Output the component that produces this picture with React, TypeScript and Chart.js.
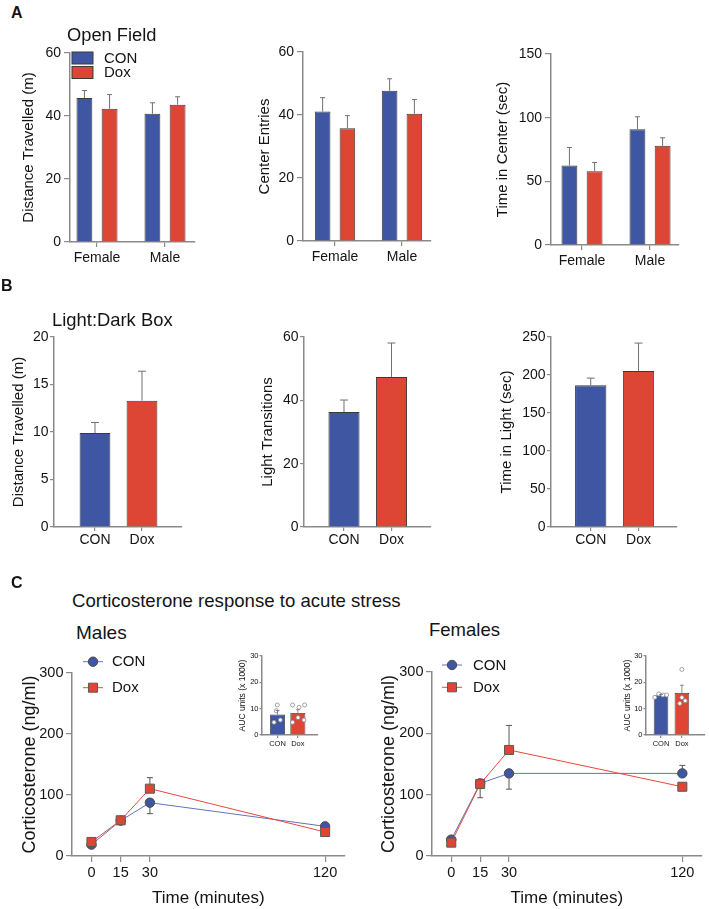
import { useEffect, useRef } from 'react';
import { Chart, registerables } from 'chart.js';

Chart.register(...registerables);

const FONT = '"Liberation Sans", Arial, Helvetica, sans-serif';
const INK = '#141414';
const AXIS = '#8a8a8a';
const BLUE = '#3F56A2';
const RED = '#DD4534';
const BAR_EDGE = '#3a3a3a';
const ERR = '#707070';
const LINE_BLUE = '#6274B8';
const LINE_RED = '#E8473A';

Chart.defaults.font.family = FONT;
Chart.defaults.color = INK;

// ---------- Panel A : Open Field ----------
const sexCategories = ['Female', 'Male'];
const seriesNames = ['CON', 'Dox'];
const ofDistanceCon = [45.7, 40.7];
const ofDistanceConErr = [2.4, 3.5];
const ofDistanceDox = [42.3, 43.6];
const ofDistanceDoxErr = [4.5, 2.5];
const ofEntriesCon = [41.1, 47.7];
const ofEntriesConErr = [4.4, 3.8];
const ofEntriesDox = [35.8, 40.4];
const ofEntriesDoxErr = [4.0, 4.5];
const ofTimeCon = [62.4, 91.0];
const ofTimeConErr = [14.2, 9.7];
const ofTimeDox = [58.0, 77.9];
const ofTimeDoxErr = [6.8, 6.3];

// ---------- Panel B : Light:Dark Box ----------
const groupCategories = ['CON', 'Dox'];
const ldDistance = [9.9, 13.3];
const ldDistanceErr = [1.1, 3.1];
const ldTransitions = [36.3, 47.4];
const ldTransitionsErr = [3.8, 10.7];
const ldTimeLight = [186.6, 205.1];
const ldTimeLightErr = [9.3, 36.9];

// ---------- Panel C : Corticosterone ----------
const timePoints = [0, 15, 30, 120];
const malesCon = [18.6, 58.0, 87.4, 48.6];
const malesConErr = [3, 4, 18, 3];
const malesDox = [23.0, 58.5, 110.4, 39.3];
const malesDoxErr = [4, 5, 18, 5];
const femalesCon = [26.7, 118.4, 134.7, 134.7];
const femalesConErr = [3, 6.6, 25.7, 13];
const femalesDox = [21.8, 117.3, 172.9, 112.9];
const femalesDoxErr = [4, 22.3, 40, 5];

// AUC insets (x 1000)
const malesAucMeans = [7.8, 8.4];
const malesAucErr = [1.5, 1.2];
const malesAucConPoints = [11.4, 9.2, 4.8, 5.7];
const malesAucConJitter = [-0.01, -0.06, -0.17, 0.14];
const malesAucDoxPoints = [11.4, 10.5, 11.4, 6.6, 4.8, 5.7];
const malesAucDoxJitter = [-0.26, 0.06, 0.33, 0.01, -0.26, 0.3];
const femalesAucMeans = [15.1, 16.0];
const femalesAucErr = [0.3, 2.9];
const femalesAucConPoints = [14.3, 15.6, 15.2, 15.2];
const femalesAucConJitter = [-0.3, -0.11, 0.09, 0.27];
const femalesAucDoxPoints = [24.9, 14.2, 12.0, 13.0];
const femalesAucDoxJitter = [0, 0, -0.1, 0.16];

type Rect = { x: number; y: number; w: number; h: number };
type Area = { l: number; t: number; r: number; b: number };

function frame(canvas: Rect, area: Area) {
  return {
    padding: { left: 0, top: area.t - canvas.y, right: canvas.x + canvas.w - area.r, bottom: 0 },
    yWidth: area.l - canvas.x,
    xHeight: canvas.y + canvas.h - area.b,
  };
}

// phase 'up'  : bar charts, error drawn upward from the bar top (after bars)
// phase 'outer': line charts, error drawn away from the other series (behind markers)
function drawErrorBars(chart: any, phase: 'up' | 'outer') {
  const ctx = chart.ctx;
  const withErr = chart.data.datasets
    .map((ds: any, di: number) => ({ ds, di }))
    .filter((o: any) => o.ds.errorBars && chart.isDatasetVisible(o.di));
  withErr.forEach(({ ds, di }: any) => {
    const eb = ds.errorBars;
    if (eb.mode !== phase) return;
    const meta = chart.getDatasetMeta(di);
    const yScale = chart.scales[meta.yAxisID];
    ctx.save();
    ctx.strokeStyle = eb.color || ERR;
    ctx.lineWidth = eb.width || 1;
    ctx.beginPath();
    meta.data.forEach((el: any, i: number) => {
      const err = eb.values[i];
      if (err == null) return;
      const v = meta.controller.getParsed(i).y;
      let sign = 1;
      if (phase === 'outer') {
        const others = withErr
          .filter((o: any) => o.di !== di)
          .map((o: any) => chart.getDatasetMeta(o.di).controller.getParsed(i).y);
        if (others.length && v < Math.max(...others)) sign = -1;
      }
      const x = el.x;
      const end = yScale.getPixelForValue(v + sign * err);
      ctx.moveTo(x, el.y);
      ctx.lineTo(x, end);
      ctx.moveTo(x - eb.cap, end);
      ctx.lineTo(x + eb.cap, end);
    });
    ctx.stroke();
    ctx.restore();
  });
}

const errorBarPlugin = {
  id: 'errorBars',
  beforeDatasetsDraw(chart: any) {
    drawErrorBars(chart, 'outer');
  },
  afterDatasetsDraw(chart: any) {
    drawErrorBars(chart, 'up');
  },
};

function makeLegendPlugin(o: any) {
  return {
    id: 'innerLegend',
    afterDraw(chart: any) {
      const { ctx, chartArea } = chart;
      const items = chart.data.datasets.filter((d: any) => d.label && d.inLegend !== false);
      ctx.save();
      ctx.font = `${o.fontSize}px ${FONT}`;
      ctx.textBaseline = 'middle';
      ctx.textAlign = 'left';
      items.forEach((d: any, i: number) => {
        const cx = chartArea.left + o.x;
        const cy = chartArea.top + o.y + i * o.rowGap;
        if (o.kind === 'box') {
          ctx.fillStyle = d.backgroundColor;
          ctx.fillRect(cx - o.boxW / 2, cy - o.boxH / 2, o.boxW, o.boxH);
          ctx.strokeStyle = BAR_EDGE;
          ctx.lineWidth = 1;
          ctx.strokeRect(cx - o.boxW / 2, cy - o.boxH / 2, o.boxW, o.boxH);
        } else {
          ctx.strokeStyle = d.borderColor;
          ctx.lineWidth = d.borderWidth;
          ctx.beginPath();
          ctx.moveTo(cx - o.lineLen / 2, cy);
          ctx.lineTo(cx + o.lineLen / 2, cy);
          ctx.stroke();
          ctx.fillStyle = d.pointBackgroundColor;
          ctx.strokeStyle = d.pointBorderColor;
          ctx.lineWidth = d.pointBorderWidth;
          ctx.beginPath();
          if (d.pointStyle === 'rect') {
            const s = d.pointRadius * Math.SQRT1_2;
            ctx.rect(cx - s, cy - s, 2 * s, 2 * s);
          } else {
            ctx.arc(cx, cy, d.pointRadius, 0, Math.PI * 2);
          }
          ctx.fill();
          ctx.stroke();
        }
        ctx.fillStyle = INK;
        ctx.fillText(d.label, cx + o.textDx, cy + 0.5);
      });
      ctx.restore();
    },
  };
}

function valueAxis(f: any, o: any) {
  return {
    type: 'linear',
    min: 0,
    max: o.max,
    ticks: { stepSize: o.step, font: { size: o.tickSize }, padding: o.tickPad, color: INK },
    grid: { drawOnChartArea: false, drawTicks: true, tickLength: o.tickLen, color: AXIS, lineWidth: 1.2 },
    border: { display: true, color: AXIS, width: 1.5 },
    title: { display: true, text: o.title, font: { size: o.titleSize }, padding: 0, color: INK },
    afterFit: (s: any) => {
      s.width = f.yWidth;
    },
  };
}

function indexAxis(f: any, o: any) {
  return {
    type: 'linear',
    min: o.min,
    max: o.max,
    offset: false,
    afterBuildTicks: (s: any) => {
      s.ticks = o.tickValues.map((v: number) => ({ value: v }));
    },
    ticks: {
      autoSkip: false,
      maxRotation: 0,
      minRotation: 0,
      font: { size: o.tickSize },
      padding: o.tickPad,
      color: INK,
      callback: (v: any, i: number) => (o.labels ? o.labels[i] : String(v)),
    },
    grid: { drawOnChartArea: false, offset: false, drawTicks: true, tickLength: o.tickLen, color: AXIS, lineWidth: 1.2 },
    border: { display: true, color: AXIS, width: 1.5 },
    title: o.title
      ? { display: true, text: o.title, font: { size: o.titleSize }, padding: 0, color: INK }
      : { display: false },
    afterFit: (s: any) => {
      s.height = f.xHeight;
    },
  };
}

const pts = (vals: number[]) => vals.map((v, i) => ({ x: i + 1, y: v }));

const baseOptions = (f: any) => ({
  animation: false,
  responsive: true,
  maintainAspectRatio: false,
  layout: { padding: f.padding },
  plugins: { legend: { display: false }, tooltip: { enabled: false } },
});

function openFieldConfig(canvas: Rect, area: Area, o: any) {
  const f = frame(canvas, area);
  const common = { borderColor: BAR_EDGE, borderWidth: 1, categoryPercentage: 0.74, barPercentage: 0.63 };
  const plugins: any[] = [errorBarPlugin];
  if (o.legend) {
    plugins.push(
      makeLegendPlugin({ kind: 'box', x: 12.5, y: 5, rowGap: 14.5, boxW: 21, boxH: 12, textDx: 21.5, fontSize: 15 })
    );
  }
  return {
    type: 'bar',
    data: {
      datasets: [
        { label: seriesNames[0], data: pts(o.con), backgroundColor: BLUE, ...common, errorBars: { values: o.conErr, mode: 'up', cap: 2.5 } },
        { label: seriesNames[1], data: pts(o.dox), backgroundColor: RED, ...common, errorBars: { values: o.doxErr, mode: 'up', cap: 2.5 } },
      ],
    },
    options: {
      ...baseOptions(f),
      scales: {
        x: indexAxis(f, { min: o.xmin, max: o.xmax, tickValues: [1, 2], labels: sexCategories, tickSize: 14, tickLen: 5, tickPad: 3 }),
        y: valueAxis(f, { max: o.max, step: o.step, title: o.title, titleSize: 15, tickSize: 14, tickLen: 6, tickPad: 3 }),
      },
    },
    plugins,
  };
}

function lightDarkConfig(canvas: Rect, area: Area, o: any) {
  const f = frame(canvas, area);
  return {
    type: 'bar',
    data: {
      datasets: [
        {
          label: '',
          data: pts(o.values),
          backgroundColor: [BLUE, RED],
          borderColor: BAR_EDGE,
          borderWidth: 1,
          categoryPercentage: 1,
          barPercentage: 0.655,
          errorBars: { values: o.err, mode: 'up', cap: 4 },
        },
      ],
    },
    options: {
      ...baseOptions(f),
      scales: {
        x: indexAxis(f, { min: o.xmin, max: o.xmax, tickValues: [1, 2], labels: groupCategories, tickSize: 14, tickLen: 4, tickPad: 1 }),
        y: valueAxis(f, { max: o.max, step: o.step, title: o.title, titleSize: 15, tickSize: 14, tickLen: 4, tickPad: 1.5 }),
      },
    },
    plugins: [errorBarPlugin],
  };
}

function cortConfig(canvas: Rect, area: Area, o: any) {
  const f = frame(canvas, area);
  const tp = (vals: number[]) => timePoints.map((t, i) => ({ x: t, y: vals[i] }));
  return {
    type: 'line',
    data: {
      datasets: [
        {
          label: seriesNames[0],
          data: tp(o.con),
          borderColor: LINE_BLUE,
          borderWidth: 1,
          tension: 0,
          fill: false,
          pointStyle: 'circle',
          pointRadius: 4.7,
          pointBackgroundColor: BLUE,
          pointBorderColor: '#4a4a4a',
          pointBorderWidth: 1,
          order: 2,
          errorBars: { values: o.conErr, mode: 'outer', cap: 3, color: '#555' },
        },
        {
          label: seriesNames[1],
          data: tp(o.dox),
          borderColor: LINE_RED,
          borderWidth: 1,
          tension: 0,
          fill: false,
          pointStyle: 'rect',
          pointRadius: 6.4,
          pointBackgroundColor: RED,
          pointBorderColor: '#5a5a5a',
          pointBorderWidth: 1,
          order: 1,
          errorBars: { values: o.doxErr, mode: 'outer', cap: 3, color: '#555' },
        },
      ],
    },
    options: {
      ...baseOptions(f),
      scales: {
        x: indexAxis(f, {
          min: -10,
          max: 130,
          tickValues: timePoints,
          tickSize: 14.5,
          tickLen: 6,
          tickPad: 2,
          title: 'Time (minutes)',
          titleSize: 17,
        }),
        y: valueAxis(f, { max: 300, step: 100, title: 'Corticosterone (ng/ml)', titleSize: 18, tickSize: 14.5, tickLen: 6, tickPad: 2.5 }),
      },
    },
    plugins: [errorBarPlugin, makeLegendPlugin({ kind: 'line', lineLen: 20, textDx: o.textDx, x: o.lx, y: o.ly, rowGap: o.rowGap, fontSize: 15 })],
  };
}

function aucConfig(canvas: Rect, area: Area, o: any) {
  const f = frame(canvas, area);
  const scatter = [
    ...o.conPts.map((v: number, i: number) => ({ x: 1 + o.conJit[i], y: v })),
    ...o.doxPts.map((v: number, i: number) => ({ x: 2 + o.doxJit[i], y: v })),
  ];
  return {
    type: 'bar',
    data: {
      datasets: [
        {
          type: 'bar',
          label: '',
          data: pts(o.means),
          backgroundColor: [BLUE, RED],
          borderColor: BAR_EDGE,
          borderWidth: 0.8,
          categoryPercentage: 1,
          barPercentage: o.bp,
          order: 2,
          errorBars: { values: o.err, mode: 'up', cap: 2, width: 0.8 },
        },
        {
          type: 'scatter',
          label: '',
          data: scatter,
          pointRadius: 2,
          pointBackgroundColor: '#ffffff',
          pointBorderColor: '#8c8c8c',
          pointBorderWidth: 0.8,
          showLine: false,
          order: 1,
        },
      ],
    },
    options: {
      ...baseOptions(f),
      scales: {
        x: indexAxis(f, { min: o.xmin, max: o.xmax, tickValues: [1, 2], labels: groupCategories, tickSize: 7.5, tickLen: 3, tickPad: 1 }),
        y: valueAxis(f, { max: 30, step: 10, title: 'AUC units (x 1000)', titleSize: 8.5, tickSize: 7.5, tickLen: 2.5, tickPad: 1 }),
      },
    },
    plugins: [errorBarPlugin],
  };
}

function ChartCanvas({ rect, build }: { rect: Rect; build: () => any }) {
  const ref = useRef<HTMLCanvasElement | null>(null);
  useEffect(() => {
    if (!ref.current) return;
    const chart = new Chart(ref.current, build() as any);
    return () => chart.destroy();
  }, [build]);
  return (
    <div style={{ position: 'absolute', left: rect.x, top: rect.y, width: rect.w, height: rect.h }}>
      <canvas ref={ref} />
    </div>
  );
}

type Spec = { rect: Rect; build: () => any };

const A1 = { x: 20, y: 38, w: 180, h: 232 };
const A2 = { x: 256, y: 38, w: 180, h: 232 };
const A3 = { x: 494, y: 38, w: 190, h: 232 };
const B1 = { x: 10, y: 320, w: 178, h: 230 };
const B2 = { x: 259, y: 320, w: 178, h: 230 };
const B3 = { x: 498, y: 320, w: 185, h: 230 };
const C1 = { x: 19, y: 648, w: 333, h: 261 };
const C2 = { x: 378, y: 648, w: 331, h: 261 };
const I1 = { x: 238, y: 645, w: 84, h: 107 };
const I2 = { x: 623, y: 645, w: 86, h: 107 };

const specs: Spec[] = [
  {
    rect: A1,
    build: () =>
      openFieldConfig(A1, { l: 70, t: 53, r: 195, b: 242 }, {
        con: ofDistanceCon, conErr: ofDistanceConErr, dox: ofDistanceDox, doxErr: ofDistanceDoxErr,
        max: 60, step: 20, title: 'Distance Travelled (m)', xmin: 0.603, xmax: 2.441, legend: true,
      }),
  },
  {
    rect: A2,
    build: () =>
      openFieldConfig(A2, { l: 303, t: 52, r: 431, b: 241 }, {
        con: ofEntriesCon, conErr: ofEntriesConErr, dox: ofEntriesDox, doxErr: ofEntriesDoxErr,
        max: 60, step: 20, title: 'Center Entries', xmin: 0.522, xmax: 2.433,
      }),
  },
  {
    rect: A3,
    build: () =>
      openFieldConfig(A3, { l: 551, t: 54, r: 679, b: 245 }, {
        con: ofTimeCon, conErr: ofTimeConErr, dox: ofTimeDox, doxErr: ofTimeDoxErr,
        max: 150, step: 50, title: 'Time in Center (sec)', xmin: 0.544, xmax: 2.426,
      }),
  },
  {
    rect: B1,
    build: () =>
      lightDarkConfig(B1, { l: 54, t: 337, r: 182, b: 527 }, {
        values: ldDistance, err: ldDistanceErr, max: 20, step: 5, title: 'Distance Travelled (m)', xmin: 0.128, xmax: 2.851,
      }),
  },
  {
    rect: B2,
    build: () =>
      lightDarkConfig(B2, { l: 304, t: 337, r: 431, b: 527 }, {
        values: ldTransitions, err: ldTransitionsErr, max: 60, step: 20, title: 'Light Transitions', xmin: 0.158, xmax: 2.832,
      }),
  },
  {
    rect: B3,
    build: () =>
      lightDarkConfig(B3, { l: 551, t: 337, r: 677, b: 527 }, {
        values: ldTimeLight, err: ldTimeLightErr, max: 250, step: 50, title: 'Time in Light (sec)', xmin: 0.169, xmax: 2.805,
      }),
  },
  {
    rect: C1,
    build: () =>
      cortConfig(C1, { l: 72, t: 673, r: 347, b: 856 }, {
        con: malesCon, conErr: malesConErr, dox: malesDox, doxErr: malesDoxErr,
        lx: 21, ly: -11.3, rowGap: 26, textDx: 19,
      }),
  },
  {
    rect: C2,
    build: () =>
      cortConfig(C2, { l: 432, t: 672, r: 707, b: 856 }, {
        con: femalesCon, conErr: femalesConErr, dox: femalesDox, doxErr: femalesDoxErr,
        lx: 20, ly: -7, rowGap: 22.3, textDx: 21,
      }),
  },
  {
    rect: I1,
    build: () =>
      aucConfig(I1, { l: 262, t: 656, r: 320, b: 735 }, {
        means: malesAucMeans, err: malesAucErr,
        conPts: malesAucConPoints, conJit: malesAucConJitter, doxPts: malesAucDoxPoints, doxJit: malesAucDoxJitter,
        xmin: 0.24, xmax: 2.95, bp: 0.74,
      }),
  },
  {
    rect: I2,
    build: () =>
      aucConfig(I2, { l: 646, t: 656, r: 708, b: 735 }, {
        means: femalesAucMeans, err: femalesAucErr,
        conPts: femalesAucConPoints, conJit: femalesAucConJitter, doxPts: femalesAucDoxPoints, doxJit: femalesAucDoxJitter,
        xmin: 0.28, xmax: 3.07, bp: 0.7,
      }),
  },
];

const labels = [
  { text: 'A', x: 11, y: 5, size: 16, bold: true },
  { text: 'B', x: 1, y: 278, size: 16, bold: true },
  { text: 'C', x: 11, y: 575, size: 16, bold: true },
  { text: 'Open Field', x: 67, y: 26, size: 18.3 },
  { text: 'Light:Dark Box', x: 52, y: 311, size: 18.4 },
  { text: 'Corticosterone response to acute stress', x: 72, y: 592, size: 18.6 },
  { text: 'Males', x: 76, y: 622.5, size: 19 },
  { text: 'Females', x: 429, y: 621, size: 18.5 },
];

export default function App() {
  return (
    <div
      style={{
        position: 'absolute',
        left: 0,
        top: 0,
        width: 709,
        height: 909,
        overflow: 'hidden',
        background: '#ffffff',
        fontFamily: FONT,
        color: INK,
      }}
    >
      {specs.map((s, i) => (
        <ChartCanvas key={i} rect={s.rect} build={s.build} />
      ))}
      {labels.map((l, i) => (
        <div
          key={'t' + i}
          style={{
            position: 'absolute',
            left: l.x,
            top: l.y,
            fontSize: l.size,
            lineHeight: 1,
            fontWeight: l.bold ? 700 : 400,
            whiteSpace: 'nowrap',
          }}
        >
          {l.text}
        </div>
      ))}
    </div>
  );
}
